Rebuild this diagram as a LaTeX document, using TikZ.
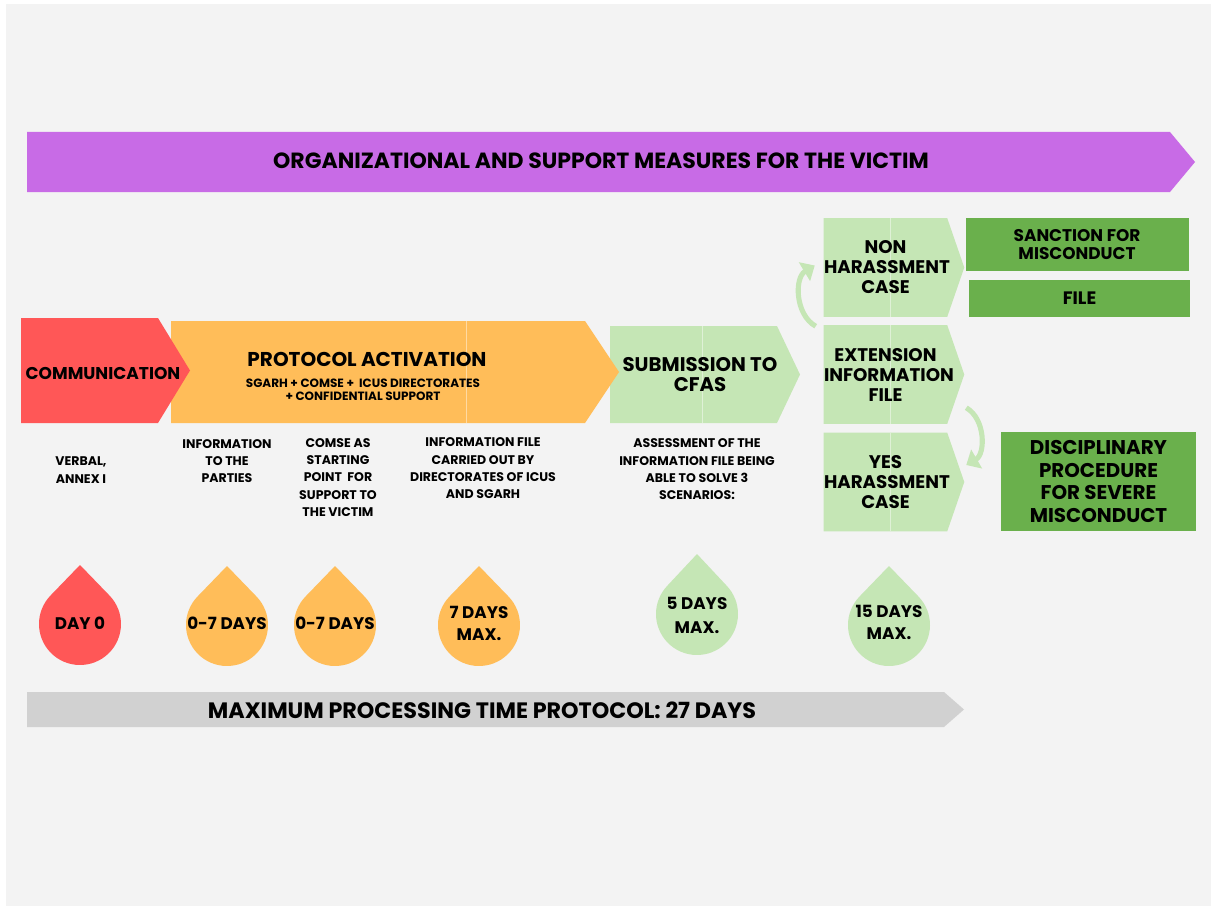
\documentclass[tikz,border=0pt]{standalone}
\usepackage{fontspec}
\setmainfont{Poppins}
\usetikzlibrary{arrows.meta,backgrounds}
\definecolor{bgc}{HTML}{F3F3F3}
\definecolor{purp}{HTML}{C86BE6}
\definecolor{redc}{HTML}{FF5757}
\definecolor{orng}{HTML}{FFBD59}
\definecolor{lgrn}{HTML}{C5E6B5}
\definecolor{dgrn}{HTML}{6AB04C}
\definecolor{gbar}{HTML}{D1D1D1}
\newcommand\fsz[2]{\fontsize{#1}{#2}\selectfont\bfseries}
% drop: x, y of the round part, distance to the tip, colour
\newcommand\drop[4]{\fill[#4] (#1,#2) ++(-44:41) arc[start angle=-44,end angle=224,radius=41] -- (#1,#2-#3) -- cycle;}
\begin{document}
\begin{tikzpicture}[x=0.75pt,y=-0.75pt,
  lbl/.style={align=center,inner sep=0pt,text=black},
  scen/.style={lbl,font=\fsz{13.7}{15},text width=92.25pt,minimum height=73.5pt},
  darkbox/.style={lbl,fill=dgrn},
  small/.style={lbl,font=\fsz{9.4}{13}},
  seam/.style={draw=white,opacity=0.45,line width=0.6pt},
  swing/.style={draw=lgrn,line width=3.8pt,-{Triangle[width=16pt,length=9pt]}}]
\useasboundingbox (0,0) rectangle (1211,906);

\fill[purp] (27,132) -- (1170,132) -- (1195,162) -- (1170,192) -- (27,192) -- cycle;
\node[lbl,font=\fsz{16.5}{17}] (measures) at (601,161) {ORGANIZATIONAL AND SUPPORT MEASURES FOR THE VICTIM};

\fill[lgrn] (610,326) -- (777,326) -- (800,374.5) -- (777,423) -- (610,423) -- cycle;
\draw[seam] (702,326) -- (702,423);
\fill[orng] (171,321) -- (585,321) -- (619,372) -- (585,423) -- (171,423) -- cycle;
\draw[seam] (466,321) -- (466,423);
\fill[redc] (21,318) -- (158,318) -- (190,370.5) -- (158,423) -- (21,423) -- cycle;

\node[lbl,font=\fsz{12.8}{14}] (comm) at (103,373) {COMMUNICATION};
\node[lbl,font=\fsz{15}{15}] (protocol) at (367,359) {PROTOCOL ACTIVATION};
\node[lbl,font=\fsz{9}{10}] (parties) at (363,389.5) {SGARH + COMSE + \ ICUS DIRECTORATES\\+ CONFIDENTIAL SUPPORT};
\node[lbl,font=\fsz{14.8}{15.5}] (subm) at (700,374.5) {SUBMISSION TO\\CFAS};

\node[scen] (nonh) at (885.5,267.5) {NON\\HARASSMENT\\CASE};
\node[scen] (ext) at (885.5,374.5) {EXTENSION\\INFORMATION\\FILE};
\node[scen] (yes) at (885.5,482) {YES\\HARASSMENT\\CASE};

\node[darkbox,font=\fsz{12.7}{14},minimum width=167.25pt,minimum height=39.75pt] (sanc) at (1077,244.5) {SANCTION FOR\\MISCONDUCT};
\node[darkbox,font=\fsz{13.5}{14},minimum width=165.75pt,minimum height=27.75pt] (file) at (1079.5,298.5) {FILE};
\node[darkbox,font=\fsz{14.9}{17},minimum width=146.25pt,minimum height=74.25pt] (disc) at (1098.5,481.5) {DISCIPLINARY\\PROCEDURE\\FOR SEVERE\\MISCONDUCT};

\begin{scope}[on background layer]
\fill[white] (0,0) rectangle (1211,906);
\fill[bgc] (6,4) rectangle (1211,906);
\fill[lgrn] (nonh.north west) -- (nonh.north east) -- ([xshift=12.75pt]nonh.east) -- (nonh.south east) -- (nonh.south west) -- cycle;
\fill[lgrn] (ext.north west) -- (ext.north east) -- ([xshift=12.75pt]ext.east) -- (ext.south east) -- (ext.south west) -- cycle;
\fill[lgrn] (yes.north west) -- (yes.north east) -- ([xshift=12.75pt]yes.east) -- (yes.south east) -- (yes.south west) -- cycle;
\draw[seam] ([xshift=4pt]nonh.north) -- ([xshift=4pt]nonh.south);
\draw[seam] ([xshift=4pt]ext.north) -- ([xshift=4pt]ext.south);
\draw[seam] ([xshift=4pt]yes.north) -- ([xshift=4pt]yes.south);
\end{scope}

\draw[swing] ([shift={(-8,1)}]ext.north west) to[bend left=60] ([shift={(-9,-2)}]nonh.west);
\draw[swing] ([shift={(19,-16)}]ext.south east) to[bend left=60] ([shift={(19,-17)}]yes.east);

\node[small] (verbal) at (81,470) {VERBAL,\\ANNEX I};
\node[small] (inform) at (227,461) {INFORMATION\\TO THE\\PARTIES};
\node[small] (comse) at (338,477.5) {COMSE AS\\STARTING\\POINT \ FOR\\SUPPORT TO\\THE VICTIM};
\node[small] (infofile) at (483,468.5) {INFORMATION FILE\\CARRIED OUT BY\\DIRECTORATES OF ICUS\\AND SGARH};
\node[small] (assess) at (697,469.5) {ASSESSMENT OF THE\\INFORMATION FILE BEING\\ABLE TO SOLVE 3\\SCENARIOS:};

%---------------------------------------------------------------------------
\drop{80}{624}{59}{redc}
\drop{227}{625}{59}{orng}
\drop{335}{625}{59}{orng}
\drop{479}{625}{59}{orng}
\drop{697}{614}{60}{lgrn}
\drop{889}{625}{59}{lgrn}
\node[lbl,font=\fsz{12.6}{16}] (day0) at (80,623) {DAY 0};
\node[lbl,font=\fsz{12.6}{16}] (wk1) at (227,623) {0-7 DAYS};
\node[lbl,font=\fsz{12.6}{16}] (wk2) at (335,623) {0-7 DAYS};
\node[lbl,font=\fsz{12.6}{16}] (max7) at (479,623.5) {7 DAYS\\MAX.};
\node[lbl,font=\fsz{12.6}{18}] (max5) at (697,615) {5 DAYS\\MAX.};
\node[lbl,font=\fsz{12.6}{16.5}] (max15) at (889,622) {15 DAYS\\MAX.};

\fill[gbar] (27,692) -- (944,692) -- (964,709.5) -- (944,727) -- (27,727) -- cycle;
\node[lbl,font=\fsz{16.7}{17}] (total) at (482,710) {MAXIMUM PROCESSING TIME PROTOCOL: 27 DAYS};
\end{tikzpicture}
\end{document}
